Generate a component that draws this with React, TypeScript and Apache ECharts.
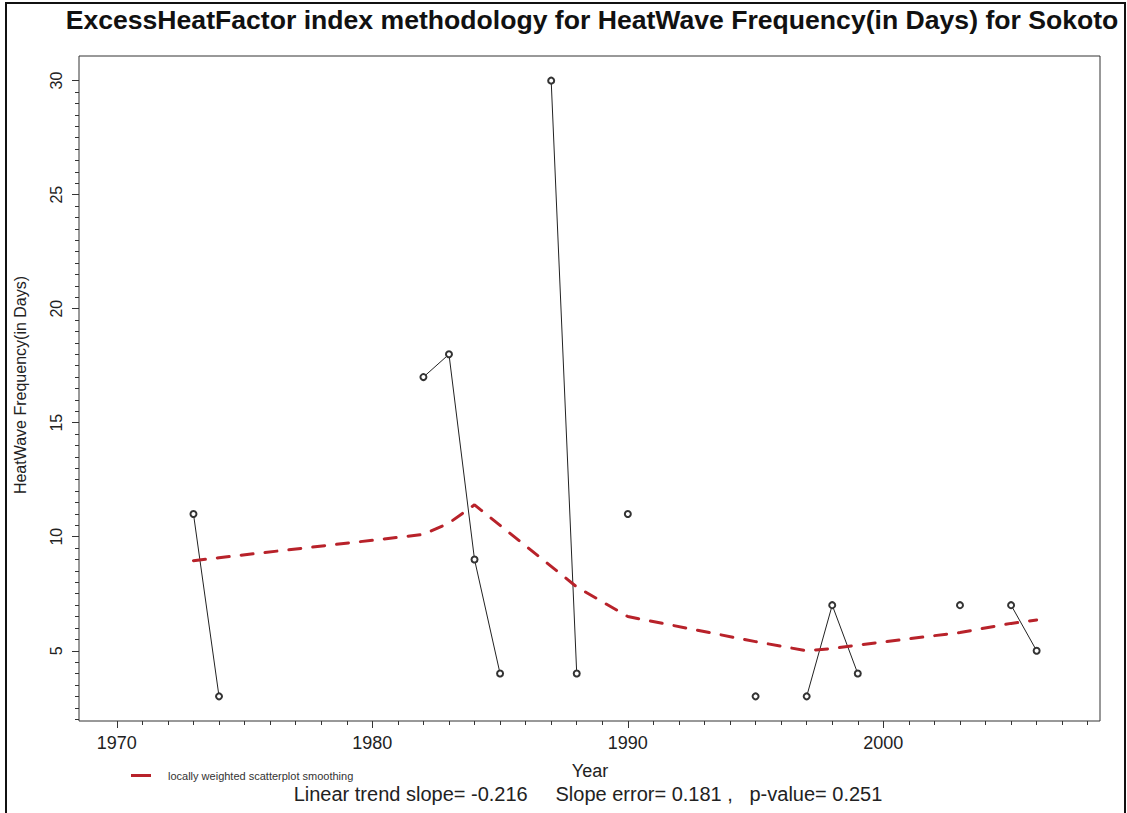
import React, { useEffect, useRef } from "react";
import * as echarts from "echarts";

// Data
const years = [1973, 1974, 1982, 1983, 1984, 1985, 1987, 1988, 1990, 1995, 1997, 1998, 1999, 2003, 2005, 2006];
const frequency = [11, 3, 17, 18, 9, 4, 30, 4, 11, 3, 3, 7, 4, 7, 7, 5];
const lowessFit = [8.95, 9.08, 10.1, 10.6, 11.4, 10.5, 8.7, 7.8, 6.5, 5.4, 5.0, 5.1, 5.25, 5.8, 6.2, 6.35];

const xMajorTicks = [1970, 1980, 1990, 2000];
const yMajorTicks = [5, 10, 15, 20, 25, 30];

const titleText = "ExcessHeatFactor index methodology for HeatWave Frequency(in Days) for Sokoto";
const yTitle = "HeatWave Frequency(in Days)";
const xTitle = "Year";
const subText = "Linear trend slope= -0.216     Slope error= 0.181 ,   p-value= 0.251";
const legendName = "locally weighted scatterplot smoothing";

const FONT = "'Liberation Sans', Arial, Helvetica, sans-serif";

export default function App() {
  const ref = useRef<HTMLDivElement | null>(null);

  useEffect(() => {
    if (!ref.current) return;
    const chart = echarts.init(ref.current, undefined, { renderer: "svg" });

    const xMin = 1968.52;
    const xMax = 2008.48;
    const yMin = 1.92;
    const yMax = 31.08;

    const xMinorTicks: number[] = [];
    for (let v = 1970; v <= 2008; v += 1) xMinorTicks.push(v);
    const yMinorTicks: number[] = [];
    for (let v = 2; v <= 30.001; v += 0.5) yMinorTicks.push(v);

    // observed series: break the line where years are missing
    const observed: any[] = [];
    years.forEach((yr, i) => {
      if (i > 0 && yr - years[i - 1] > 1) observed.push([years[i - 1] + 1, null]);
      observed.push([yr, frequency[i]]);
    });
    const smooth = years.map((yr, i) => [yr, lowessFit[i]]);

    const plain = (v: number) => String(v);

    const option: any = {
      animation: false,
      backgroundColor: "#ffffff",
      grid: {
        left: 79,
        right: 27,
        top: 56,
        bottom: 92,
        show: true,
        borderColor: "#333",
        borderWidth: 1,
        backgroundColor: "transparent",
        outerBoundsMode: "none",
      },
      legend: {
        show: true,
        left: 126,
        top: 765,
        itemWidth: 20,
        itemHeight: 3,
        data: [{ name: legendName, icon: "rect" }],
        textStyle: { fontSize: 11, color: "#333", fontFamily: FONT, padding: [0, 0, 0, 12] },
      },
      xAxis: [
        {
          type: "value",
          min: xMin,
          max: xMax,
          position: "bottom",
          axisLine: { show: false },
          splitLine: { show: false },
          axisTick: { show: true, customValues: xMajorTicks, length: 7, lineStyle: { color: "#333" } },
          axisLabel: { customValues: xMajorTicks, formatter: plain, fontSize: 18, color: "#222", margin: 13, fontFamily: FONT },
        },
        {
          type: "value",
          min: xMin,
          max: xMax,
          position: "bottom",
          axisLine: { show: false },
          splitLine: { show: false },
          axisTick: { show: true, customValues: xMinorTicks, length: 4, lineStyle: { color: "#333" } },
          axisLabel: { show: false },
        },
      ],
      yAxis: [
        {
          type: "value",
          min: yMin,
          max: yMax,
          position: "left",
          axisLine: { show: false },
          splitLine: { show: false },
          axisTick: { show: true, customValues: yMajorTicks, length: 7, lineStyle: { color: "#333" } },
          axisLabel: { customValues: yMajorTicks, formatter: plain, fontSize: 16, color: "#222", margin: 15, rotate: 90, fontFamily: FONT },
        },
        {
          type: "value",
          min: yMin,
          max: yMax,
          position: "left",
          axisLine: { show: false },
          splitLine: { show: false },
          axisTick: { show: true, customValues: yMinorTicks, length: 4, lineStyle: { color: "#333" } },
          axisLabel: { show: false },
        },
      ],
      series: [
        {
          name: "observed",
          type: "line",
          xAxisIndex: 0,
          yAxisIndex: 0,
          data: observed,
          connectNulls: false,
          showAllSymbol: true,
          symbol: "emptyCircle",
          symbolSize: 6,
          itemStyle: { color: "#333", borderWidth: 1 },
          lineStyle: { color: "#222", width: 1 },
          z: 2,
        },
        {
          name: legendName,
          type: "line",
          xAxisIndex: 0,
          yAxisIndex: 0,
          data: smooth,
          symbol: "none",
          color: "#b8222a",
          lineStyle: { color: "#b8222a", width: 3, type: [12, 12], cap: "round" },
          z: 3,
        },
      ],
      graphic: [
        {
          type: "rect",
          shape: { x: 6, y: 3, width: 1119, height: 830 },
          style: { fill: "none", stroke: "#111", lineWidth: 2 },
          silent: true,
        },
        {
          type: "text",
          x: 592,
          y: 20,
          style: {
            text: titleText,
            fontSize: 26.6,
            fontWeight: "bold",
            fontFamily: FONT,
            fill: "#111",
            align: "center",
            verticalAlign: "middle",
          },
        },
        {
          type: "text",
          x: 20,
          y: 385,
          rotation: Math.PI / 2,
          style: {
            text: yTitle,
            fontSize: 16,
            fontFamily: FONT,
            fill: "#222",
            align: "center",
            verticalAlign: "middle",
          },
        },
        {
          type: "text",
          x: 590,
          y: 771,
          style: {
            text: xTitle,
            fontSize: 18,
            fontFamily: FONT,
            fill: "#222",
            align: "center",
            verticalAlign: "middle",
          },
        },
        {
          type: "text",
          x: 588,
          y: 794,
          style: {
            text: subText,
            fontSize: 20,
            fontFamily: FONT,
            fill: "#222",
            align: "center",
            verticalAlign: "middle",
          },
        },
      ],
    };

    chart.setOption(option);
    return () => chart.dispose();
  }, []);

  return (
    <div
      ref={ref}
      style={{ position: "absolute", left: 0, top: 0, width: 1127, height: 813 }}
    />
  );
}
